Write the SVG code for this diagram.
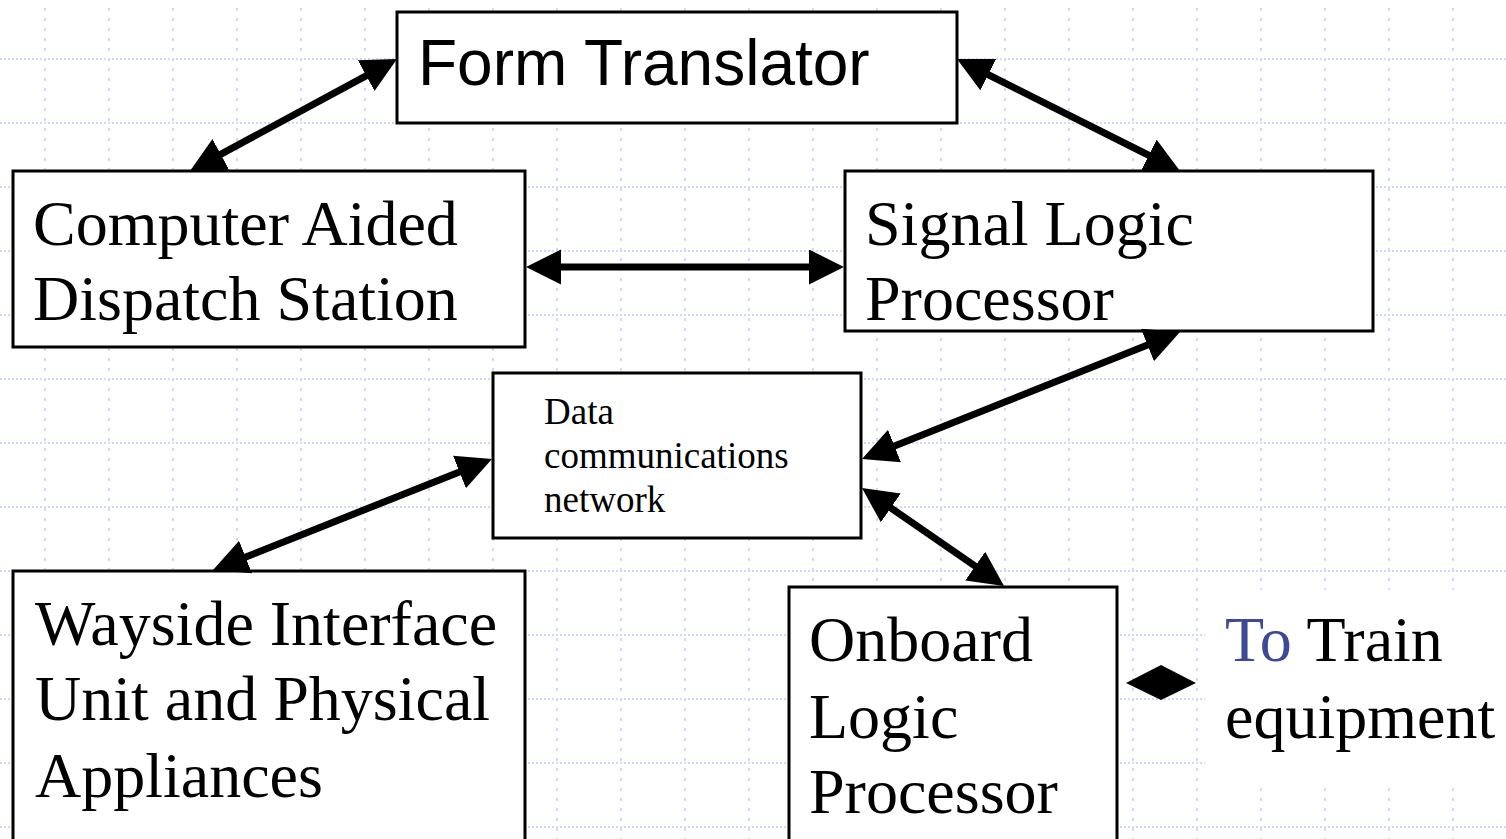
<svg xmlns="http://www.w3.org/2000/svg" width="1506" height="839" viewBox="0 0 1506 839">
<style>
.box{fill:#ffffff;stroke:#000000;stroke-width:3}
.serif{font-family:"Liberation Serif","Times New Roman",serif;fill:#000000}
.big{font-size:64px}
.sans{font-family:"Liberation Sans",Arial,sans-serif;font-size:64px;fill:#000000}
.small{font-size:37px}
.conn{stroke:#000000;stroke-width:7;fill:none;marker-start:url(#ah);marker-end:url(#ah)}
.gh{stroke:#cfdaf9;stroke-width:2;stroke-dasharray:2 2}
.gv{stroke:#cfdaf9;stroke-width:2;stroke-dasharray:3 7}
</style>
<defs>
<marker id="ah" markerUnits="userSpaceOnUse" markerWidth="36" markerHeight="36" refX="25" refY="17.5" orient="auto-start-reverse">
<path d="M0,0 L35,17.5 L0,35 Z" fill="#000000"/>
</marker>
</defs>
<rect width="1506" height="839" fill="#ffffff"/>
<g id="grid">
<line class="gh" x1="0" y1="59" x2="1506" y2="59"/>
<line class="gh" x1="0" y1="123" x2="1506" y2="123"/>
<line class="gh" x1="0" y1="187" x2="1506" y2="187"/>
<line class="gh" x1="0" y1="251" x2="1506" y2="251"/>
<line class="gh" x1="0" y1="315" x2="1506" y2="315"/>
<line class="gh" x1="0" y1="379" x2="1506" y2="379"/>
<line class="gh" x1="0" y1="443" x2="1506" y2="443"/>
<line class="gh" x1="0" y1="507" x2="1506" y2="507"/>
<line class="gh" x1="0" y1="571" x2="1506" y2="571"/>
<line class="gh" x1="0" y1="635" x2="1506" y2="635"/>
<line class="gh" x1="0" y1="699" x2="1506" y2="699"/>
<line class="gh" x1="0" y1="763" x2="1506" y2="763"/>
<line class="gh" x1="0" y1="827" x2="1506" y2="827"/>
<line class="gv" x1="45" y1="8" x2="45" y2="839"/>
<line class="gv" x1="109" y1="8" x2="109" y2="839"/>
<line class="gv" x1="173" y1="8" x2="173" y2="839"/>
<line class="gv" x1="237" y1="8" x2="237" y2="839"/>
<line class="gv" x1="301" y1="8" x2="301" y2="839"/>
<line class="gv" x1="365" y1="8" x2="365" y2="839"/>
<line class="gv" x1="429" y1="8" x2="429" y2="839"/>
<line class="gv" x1="493" y1="8" x2="493" y2="839"/>
<line class="gv" x1="557" y1="8" x2="557" y2="839"/>
<line class="gv" x1="621" y1="8" x2="621" y2="839"/>
<line class="gv" x1="685" y1="8" x2="685" y2="839"/>
<line class="gv" x1="749" y1="8" x2="749" y2="839"/>
<line class="gv" x1="813" y1="8" x2="813" y2="839"/>
<line class="gv" x1="877" y1="8" x2="877" y2="839"/>
<line class="gv" x1="941" y1="8" x2="941" y2="839"/>
<line class="gv" x1="1005" y1="8" x2="1005" y2="839"/>
<line class="gv" x1="1069" y1="8" x2="1069" y2="839"/>
<line class="gv" x1="1133" y1="8" x2="1133" y2="839"/>
<line class="gv" x1="1197" y1="8" x2="1197" y2="839"/>
<line class="gv" x1="1261" y1="8" x2="1261" y2="839"/>
<line class="gv" x1="1325" y1="8" x2="1325" y2="839"/>
<line class="gv" x1="1389" y1="8" x2="1389" y2="839"/>
<line class="gv" x1="1453" y1="8" x2="1453" y2="839"/>
</g>
<g id="form-translator">
<rect class="box" x="397" y="12" width="560" height="111"/>
<text class="sans" x="418" y="85">Form Translator</text>
</g>
<g id="cad-station">
<rect class="box" x="13" y="171" width="512" height="176"/>
<text class="serif big" x="33" y="245">Computer Aided</text>
<text class="serif big" x="33" y="320">Dispatch Station</text>
</g>
<g id="signal-logic">
<rect class="box" x="845" y="171" width="528" height="160"/>
<text class="serif big" x="865" y="245">Signal Logic</text>
<text class="serif big" x="865" y="320">Processor</text>
</g>
<g id="data-network">
<rect class="box" x="493" y="373" width="368" height="165"/>
<text class="serif small" x="544" y="424">Data</text>
<text class="serif small" x="544" y="468">communications</text>
<text class="serif small" x="544" y="512">network</text>
</g>
<g id="wayside">
<rect class="box" x="13" y="571" width="512" height="280"/>
<text class="serif big" x="35" y="645">Wayside Interface</text>
<text class="serif big" x="35" y="720">Unit and Physical</text>
<text class="serif big" x="35" y="797">Appliances</text>
</g>
<g id="onboard">
<rect class="box" x="789" y="587" width="328" height="264"/>
<text class="serif big" x="809" y="661">Onboard</text>
<text class="serif big" x="809" y="738">Logic</text>
<text class="serif big" x="809" y="813">Processor</text>
</g>
<g id="train-equipment">
<rect x="1205" y="590" width="301" height="195" fill="#ffffff"/>
<text class="serif big" x="1225" y="661"><tspan fill="#3d4896">To</tspan> Train</text>
<text class="serif big" x="1225" y="738">equipment</text>
</g>
<g id="connectors">
<line class="conn" x1="198.8" y1="166.2" x2="388.2" y2="63.8"/>
<line class="conn" x1="965.9" y1="63.5" x2="1171.1" y2="166.5"/>
<line class="conn" x1="536" y1="267" x2="834" y2="267"/>
<line class="conn" x1="871.3" y1="455.3" x2="1170.7" y2="335.7"/>
<line class="conn" x1="870.2" y1="493.7" x2="995.8" y2="580.3"/>
<line class="conn" x1="222.3" y1="566.3" x2="482.7" y2="462.7"/>
<path d="M1126,683 L1161,665 L1196,683 L1161,700 Z" fill="#000000"/>
</g>
</svg>
